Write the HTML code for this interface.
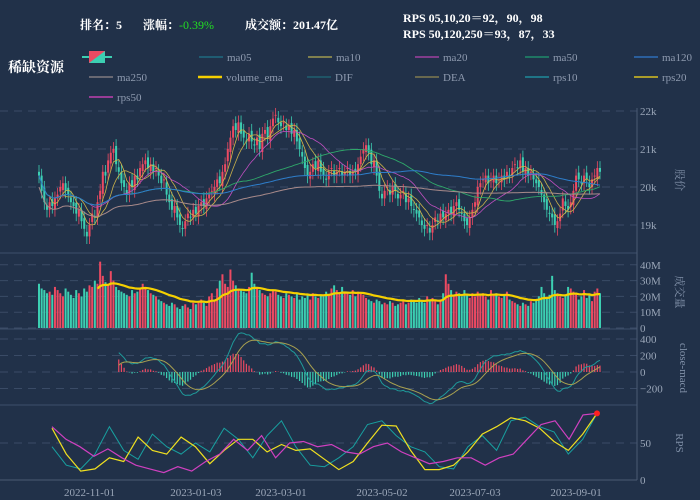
<!DOCTYPE html>
<html><head><meta charset="utf-8"><style>
html,body{margin:0;padding:0;background:#213149;}
svg{display:block;font-family:"Liberation Serif","Noto Serif CJK SC","Noto Sans CJK SC",serif;}
</style></head><body>
<svg id="chart" width="700" height="500" viewBox="0 0 700 500" xmlns="http://www.w3.org/2000/svg">
<rect width="700" height="500" fill="#213149"/>
<g font-size="12" fill="#ffffff" font-weight="bold">
<text x="80" y="29">排名：5</text>
<text x="143" y="29">涨幅：<tspan fill="#22dd22" font-weight="normal">-0.39%</tspan></text>
<text x="245" y="29">成交额：201.47亿</text>
<text x="403" y="22">RPS 05,10,20＝92，90，98</text>
<text x="403" y="38">RPS 50,120,250＝93，87，33</text>
<text x="8" y="72" font-size="14">稀缺资源</text>
</g>
<g id="legend" font-size="11" fill="#8f9bb0"></g>
<g id="grid"></g>
<g id="plots"></g>
<g id="axes" font-size="11" fill="#9aa6b8"></g>
</svg>
<script>
const closes=[20.3,19.9,19.6,19.4,19.6,19.5,19.7,19.8,20.0,20.1,19.9,19.8,19.6,19.5,19.3,19.4,19.1,18.9,18.7,19.0,19.3,19.2,19.6,19.9,20.4,20.3,20.7,20.9,21.0,20.6,20.4,20.1,20.0,19.8,20.1,20.0,20.3,20.2,20.5,20.6,20.7,20.5,20.6,20.4,20.5,20.3,20.1,20.2,19.8,19.6,19.4,19.5,19.2,19.0,18.9,19.1,19.3,19.2,19.4,19.3,19.5,19.6,19.5,19.7,19.8,19.9,20.0,20.2,20.1,20.4,20.6,21.0,21.3,21.6,21.5,21.7,21.4,21.3,21.2,21.4,21.2,21.1,21.3,21.0,21.4,21.5,21.3,21.6,21.8,21.9,21.7,21.6,21.7,21.5,21.6,21.4,21.5,21.2,21.0,20.8,20.5,20.3,20.4,20.6,20.5,20.7,20.4,20.3,20.2,20.4,20.5,20.3,20.4,20.5,20.3,20.4,20.5,20.3,20.4,20.4,20.6,20.8,21.0,21.1,20.9,20.6,20.7,20.3,19.9,19.7,19.9,20.0,19.8,20.0,19.9,19.7,19.8,19.9,19.6,19.7,19.5,19.4,19.3,19.2,19.0,18.9,19.0,18.8,19.0,19.2,19.1,19.3,19.2,19.3,19.4,19.3,19.5,19.6,19.4,19.3,19.1,19.0,19.2,19.4,19.6,20.0,20.1,20.2,20.3,20.1,20.2,20.3,20.1,20.2,20.3,20.2,20.4,20.3,20.5,20.6,20.5,20.7,20.4,20.5,20.3,20.4,20.2,20.1,20.0,19.8,19.6,19.4,19.3,19.2,19.0,19.1,19.3,19.7,19.5,19.4,19.6,19.9,20.3,20.2,20.1,20.3,20.2,20.0,20.2,20.3,20.5,20.4];
const volumes=[28,25,24,22,23,21,26,24,22,20,25,23,21,19,24,22,20,25,23,27,26,30,28,42,33,29,27,36,30,26,24,23,22,21,20,24,22,23,25,28,26,24,22,21,20,18,17,16,15,14,16,15,13,12,14,15,13,12,16,15,17,18,16,14,20,22,18,25,30,34,28,26,37,30,27,25,24,23,22,26,35,28,25,24,22,21,20,22,24,23,21,20,19,22,21,20,19,22,18,20,19,21,18,22,20,19,21,20,23,21,25,27,24,22,26,23,22,21,24,20,23,22,21,19,18,17,16,18,17,15,16,15,17,16,14,15,16,17,15,16,18,17,16,19,17,16,20,18,19,17,15,18,22,34,28,24,21,23,22,20,24,21,19,22,20,23,21,22,20,18,24,21,22,20,19,21,23,18,17,16,15,14,16,15,14,17,16,18,20,26,22,19,21,33,24,22,20,19,21,26,25,23,22,18,20,24,19,21,17,23,25,22,18,20];
const rps10=[45,20,15,35,72,40,28,62,45,35,50,38,70,55,30,60,80,45,20,18,30,45,75,80,60,45,38,18,15,45,60,40,80,85,72,65,35,55,90];
const rps20=[70,35,12,15,30,25,58,40,35,58,45,22,40,55,55,38,48,40,42,28,14,25,50,74,73,40,14,14,20,38,62,72,84,80,70,52,40,62,90];
const rps50=[72,55,45,32,42,30,20,15,10,18,12,25,35,55,40,60,30,50,52,45,48,38,35,45,50,38,30,22,25,30,30,20,30,35,55,75,80,55,88,90];
const dateLabels=["2022-11-01","2023-01-03","2023-03-01","2023-05-02","2023-07-03","2023-09-01"];
const dateIdx=[19,59,91,129,164,202];
const priceTicks=[19,20,21,22];
const volTicks=[0,10,20,30,40];
const macdTicks=[-200,0,200,400];
const rpsTicks=[0,50];

const NS="http://www.w3.org/2000/svg";
function mk(tag,attrs,parent){const e=document.createElementNS(NS,tag);for(const k in attrs)e.setAttribute(k,attrs[k]);parent.appendChild(e);return e;}
const N=closes.length, X0=39, X1=600, step=(X1-X0)/(N-1);
const xOf=i=>X0+i*step;
const yPrice=v=>187-(v-20)*38;
const yVol=v=>328-v*1.58;
const yMacd=v=>372-v*0.0825;
const yRps=v=>480-v*0.74;
const grid=document.getElementById('grid'),plots=document.getElementById('plots'),axes=document.getElementById('axes'),legend=document.getElementById('legend');

[253,329,405].forEach(y=>{const l=mk('line',{x1:0,x2:637,y1:y,y2:y,stroke:'#3d4f6a','stroke-width':1},grid);

});
const ax=mk('line',{x1:637,x2:637,y1:108,y2:480,stroke:'#4a5a74','stroke-width':1},axes);


const bx=mk('line',{x1:0,x2:637,y1:480,y2:480,stroke:'#4a5a74','stroke-width':1},axes);



function hgrid(y,label,name){const l=mk('line',{x1:0,x2:637,y1:y,y2:y,stroke:'#3a4b66','stroke-dasharray':'8,6'},grid);


const t=mk('text',{x:640,y:y+4},axes);t.textContent=label;

}
priceTicks.forEach(v=>hgrid(yPrice(v),v+'k','price-tick'));
volTicks.forEach(v=>hgrid(yVol(v),v?v+'M':'0','volume-tick'));
macdTicks.forEach(v=>hgrid(yMacd(v),v<0?'−'+(-v):String(v),'macd-tick'));
rpsTicks.forEach(v=>hgrid(yRps(v),String(v),'rps-tick'));

function vtitle(x,y,txt,name){const t=mk('text',{x:x,y:y,transform:`rotate(90 ${x} ${y})`,'text-anchor':'middle','font-size':'11',fill:'#8090a8'},axes);t.textContent=txt;

}
vtitle(676,180,'股价','price-axis-title');vtitle(676,292,'成交量','volume-axis-title');vtitle(680,368,'close-macd','macd-axis-title');vtitle(676,443,'RPS','rps-axis-title');

dateLabels.forEach((d,k)=>{const t=mk('text',{x:xOf(dateIdx[k]),y:496,'text-anchor':'middle'},axes);t.textContent=d;

});

const UP='#ec4a62',DN='#3ccfb2';
const opens=closes.map((c,i)=>i?closes[i-1]+((i%3)-1)*0.08:c+0.1);
closes.forEach((c,i)=>{const o=opens[i],up=c>=o,col=up?UP:DN,x=xOf(i);
const hi=Math.max(o,c)+0.18,lo=Math.min(o,c)-0.2;
const w=mk('line',{x1:x,x2:x,y1:yPrice(hi),y2:yPrice(lo),stroke:col,'stroke-width':0.8},plots);


const top=yPrice(Math.max(o,c)),h=Math.max(1,yPrice(Math.min(o,c))-top);
const r=mk('rect',{x:x-1,y:top,width:2,height:h,fill:col},plots);

});

function ma(arr,n){return arr.map((_,i)=>{const s=Math.max(0,i-n+1);let t=0;for(let j=s;j<=i;j++)t+=arr[j];return t/(i-s+1);});}
function ema(arr,n){const a=2/(n+1);let out=[],p=arr[0];arr.forEach(v=>{p=a*v+(1-a)*p;out.push(p);});return out;}
function line(vals,yf,color,name,width,start,xs){let d='';vals.forEach((v,i)=>{if(i<(start||0))return;const x=xs?xs(i):xOf(i);d+=(d?'L':'M')+x.toFixed(1)+','+yf(v).toFixed(1);});
const p=mk('path',{d:d,fill:'none',stroke:color,'stroke-width':width||1},plots);

return p;}
line(ma(closes,5),yPrice,'#d4b84a','ma05-line',0.8,2);
line(ma(closes,10),yPrice,'#c9b04a','ma10-line',0.8,4);
line(ma(closes,20),yPrice,'#c04fc0','ma20-line',0.8,6);
line(ma(closes,50),yPrice,'#2fa86a','ma50-line',0.9);
line(ma(closes,120),yPrice,'#2e7ecb','ma120-line',1);
line(ma(closes,250).map(v=>v-0.3),yPrice,'#a88a8a','ma250-line',1);

const vols=volumes.slice(0,N);
vols.forEach((v,i)=>{const up=closes[i]>=opens[i];const y=yVol(v);
const r=mk('rect',{x:xOf(i)-1,y:y,width:2,height:328-y,fill:up?UP:DN},plots);

});
line(ema(vols,20),yVol,'#f5d000','volume-ema-line',2.2,22);

const e12=ema(closes,12),e26=ema(closes,26);
const dif=e12.map((v,i)=>(v-e26[i])*1000);
const dea=ema(dif,9);
dif.forEach((d,i)=>{if(i<30)return;const h=(d-dea[i])*1.0;const y0=yMacd(0),y=yMacd(h);
const l=mk('line',{x1:xOf(i),x2:xOf(i),y1:y0,y2:y,stroke:h>=0?UP:DN,'stroke-width':1.2},plots);

});
line(dif,yMacd,'#1f9a9a','dif-line',1,30);
line(dea,yMacd,'#a8a050','dea-line',1,30);

function rx(arr){return i=>52+i*(597-52)/(arr.length-1);}
line(rps10,yRps,'#18a0a0','rps10-line',1,0,rx(rps10));
line(rps20,yRps,'#f0e020','rps20-line',1.2,0,rx(rps20));
line(rps50,yRps,'#d040c0','rps50-line',1.2,0,rx(rps50));
const dot=mk('circle',{cx:597,cy:yRps(rps50[rps50.length-1]),r:3,fill:'#ff2020'},plots);



const items=[['ma05','#1f6a80',227,61],['ma10','#a09a50',336,61],['ma20','#a040a0',443,61],['ma50','#1f8a6a',553,61],['ma120','#2e6eb8',662,61],
['ma250','#807a80',117,81],['volume_ema','#f5d000',226,81],['DIF','#1f6070',335,81],['DEA','#807a50',443,81],['rps10','#1f8a9a',553,81],['rps20','#d8c020',662,81],['rps50','#c040b0',117,101]];
const ic=mk('g',{},legend);


mk('line',{x1:82,x2:112,y1:57,y2:57,stroke:'#3ccfb2','stroke-width':2},ic);
mk('rect',{x:89,y:51,width:16,height:12,fill:UP},ic);
mk('polygon',{points:'105,51 105,63 89,63',fill:'#3ccfb2'},ic);
items.forEach(it=>{const g=mk('g',{},legend);


mk('line',{x1:it[2]-28,x2:it[2]-4,y1:it[3]-4,y2:it[3]-4,stroke:it[1],'stroke-width':it[0]==='volume_ema'?2.5:1.5},g);
const t=mk('text',{x:it[2],y:it[3]},g);t.textContent=it[0];});
</script>
</body></html>
